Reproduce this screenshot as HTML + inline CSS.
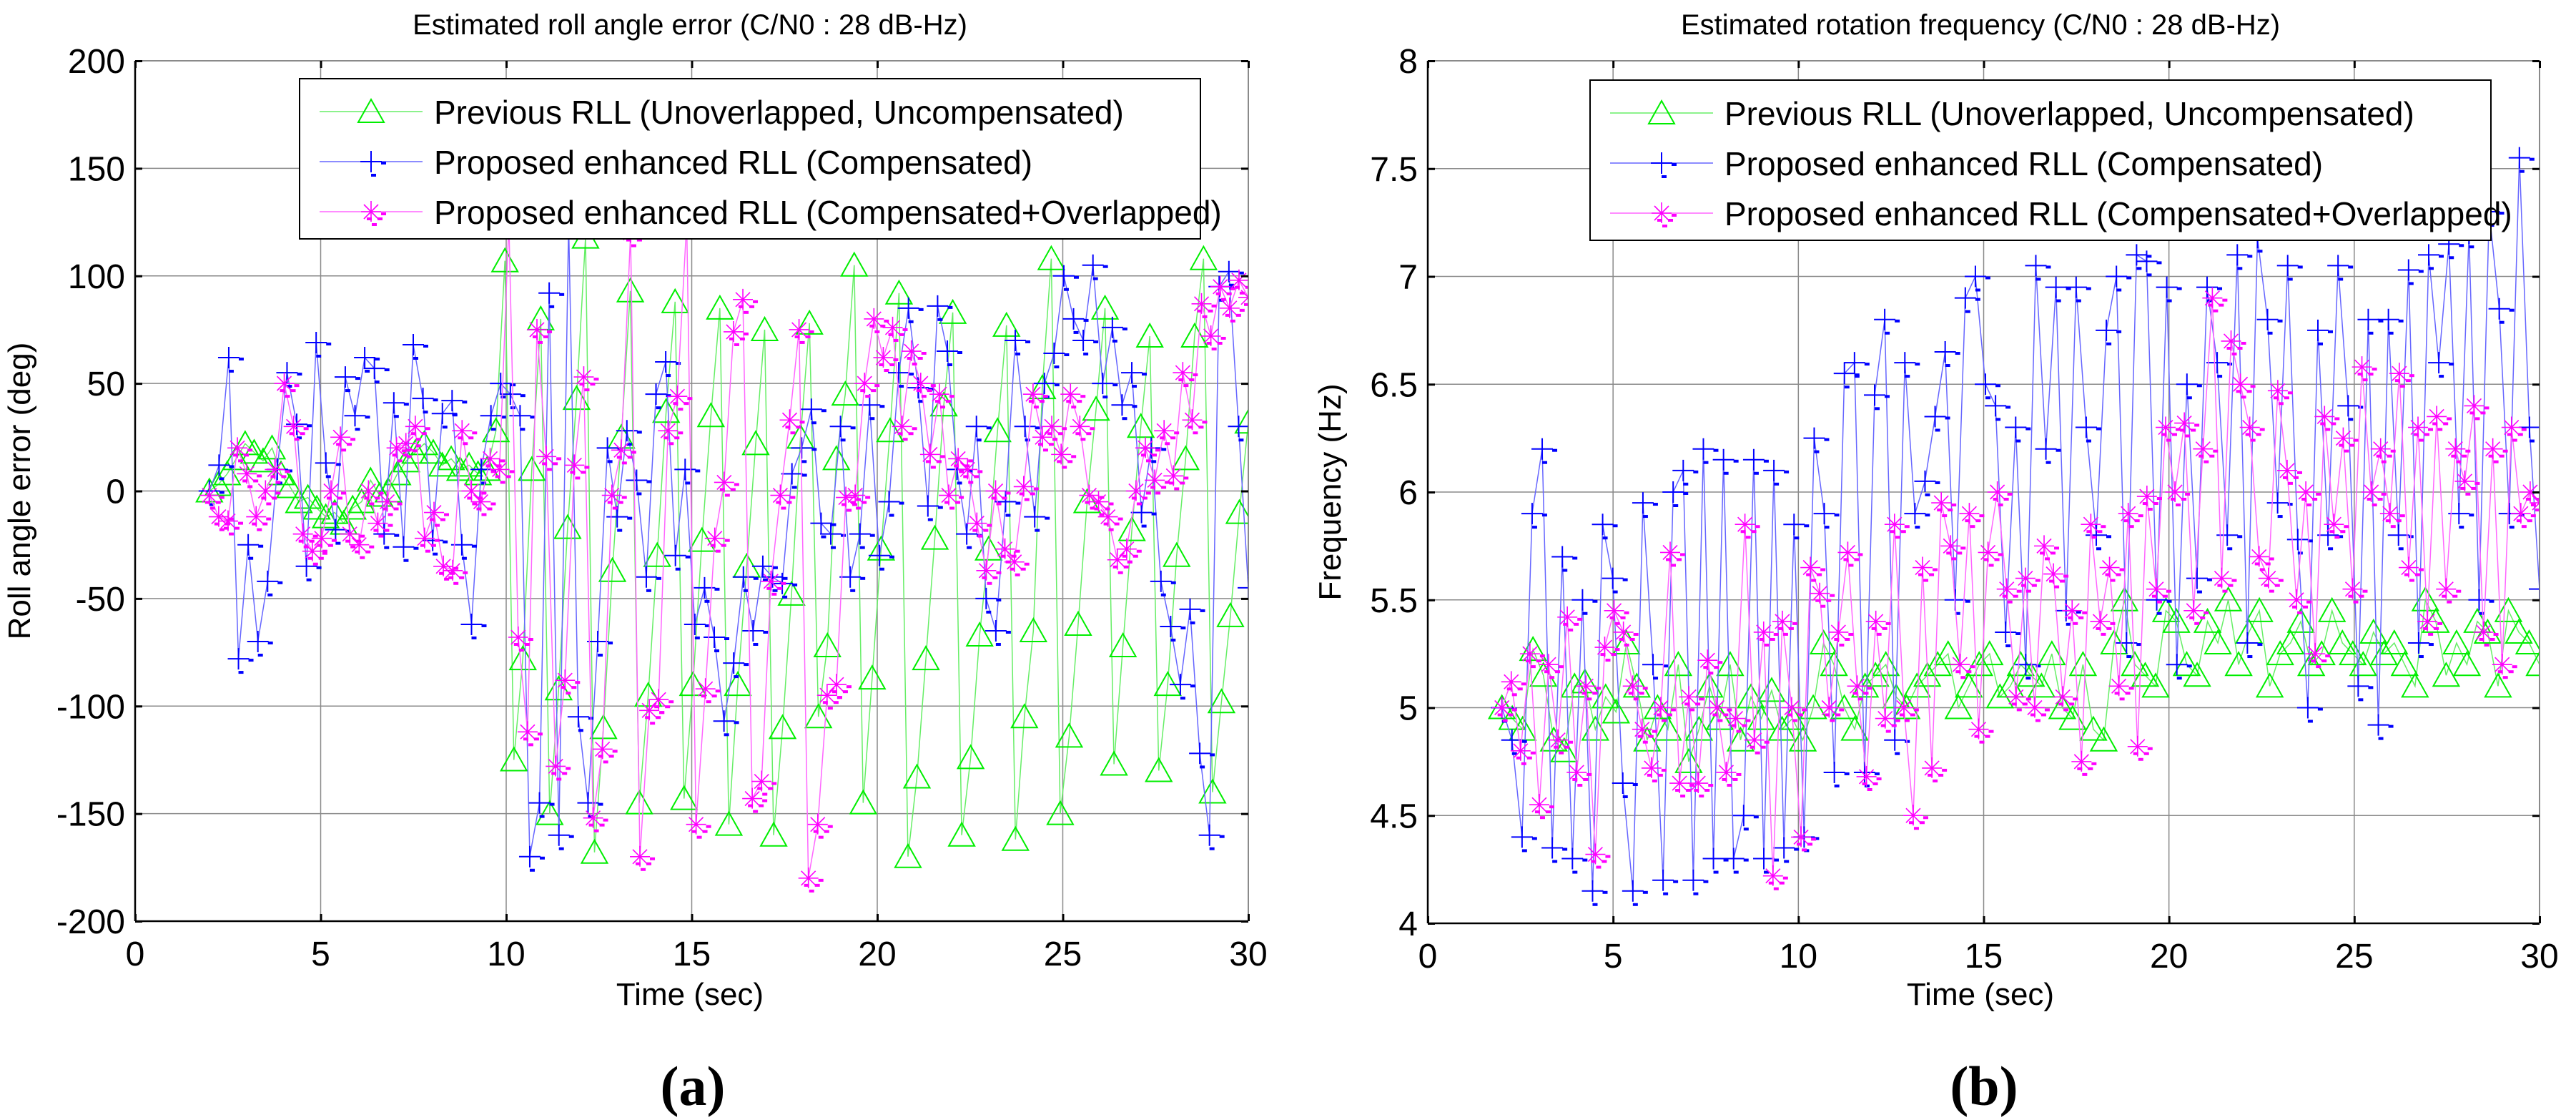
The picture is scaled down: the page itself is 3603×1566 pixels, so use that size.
<!DOCTYPE html>
<html><head><meta charset="utf-8">
<style>
html,body{margin:0;padding:0;background:#fff;}
svg{display:block;font-family:"Liberation Sans",sans-serif;}
</style></head>
<body>
<svg id="fig" width="3603" height="1566" viewBox="0 0 3603 1566" xmlns="http://www.w3.org/2000/svg">
<defs>
<clipPath id="clipA"><rect x="189" y="85" width="1557" height="1203"/></clipPath>
<clipPath id="clipB"><rect x="1997" y="85" width="1555" height="1206"/></clipPath>
</defs>
<g id="chartA"></g>
<g id="chartB"></g>
<text x="969" y="1545" text-anchor="middle" font-family="Liberation Serif,serif" font-size="78" font-weight="bold">(a)</text>
<text x="2775" y="1545" text-anchor="middle" font-family="Liberation Serif,serif" font-size="78" font-weight="bold">(b)</text>
</svg>
<script>
const xTicks=[0,5,10,15,20,25,30];
const yTicksA=[-200,-150,-100,-50,0,50,100,150,200];
const yTicksB=[4,4.5,5,5.5,6,6.5,7,7.5,8];
const yTickLabelsB=['4','4.5','5','5.5','6','6.5','7','7.5','8'];
const tStart=2, tEnd=30;
const greenA=[0,3,8,15,22,18,14,20,8,2,-5,-3,-8,-12,-10,-15,-8,-5,5,-2,0,8,14,18,22,18,12,15,10,12,8,10,
28,107,-125,-78,10,80,-150,-92,-17,43,118,-168,-110,-37,25,93,-145,-95,-30,37,88,-143,-90,-23,35,85,-155,-90,-35,22,75,-160,-110,-48,25,78,-105,-72,15,45,105,-145,-87,-27,28,92,-170,-133,-78,-22,40,83,-160,-124,-67,-27,28,77,-162,-105,-65,48,108,-150,-114,-62,-5,38,85,-127,-72,-18,30,72,-130,-90,-30,15,72,108,-140,-98,-58,-10,32];
const blueA=[0,12,62,-78,-25,-70,-42,10,55,31,-35,69,13,-18,53,35,62,57,-20,41,-26,68,43,-23,36,42,-25,-62,10,35,50,45,
35,-170,-145,92,-160,125,-105,-145,-70,20,-12,28,5,-40,45,60,-30,10,-62,-45,-68,-107,-80,-40,-65,-35,-40,-43,8,20,38,-15,-20,30,-40,-20,40,-30,-5,55,85,48,-7,86,65,10,-20,30,-50,-65,-5,70,30,-12,50,64,100,80,70,105,50,76,40,55,-10,20,-42,-63,-90,-55,-122,-160,95,102,30,-45];
const magentaA=[-2,-12,-14,20,8,-12,0,10,50,30,-20,-28,-22,0,25,-20,-25,0,-15,-5,20,22,30,-22,-10,-35,-37,28,0,-5,15,10,
125,-68,-112,75,16,-128,-88,12,53,-152,-120,-2,19,120,-170,-102,-97,28,44,125,-155,-92,-22,4,74,89,-143,-135,-42,-2,33,75,-180,-155,-95,-90,-3,-2,50,80,62,76,30,65,50,17,45,-2,15,10,-15,-37,0,-27,-33,2,45,25,30,17,45,30,-2,-5,-12,-32,-27,0,20,5,28,7,55,33,87,72,95,85,98,90];
const greenB=[5.0,4.95,4.9,5.27,5.15,4.85,4.8,5.1,5.12,4.9,5.05,4.98,5.3,5.1,4.85,5.0,4.9,5.2,4.75,4.9,5.1,4.95,5.2,4.85,5.05,4.95,5.08,4.9,4.95,4.85,5.0,5.3,5.2,5.0,4.9,5.1,5.15,5.2,5.05,5.0,5.1,5.15,5.2,5.25,5.0,5.1,5.2,5.25,5.05,5.1,5.2,5.15,5.1,5.25,5.0,4.95,5.2,4.9,4.85,5.3,5.5,5.2,5.15,5.1,5.45,5.4,5.2,5.15,5.4,5.3,5.5,5.2,5.35,5.45,5.1,5.25,5.3,5.4,5.2,5.25,5.45,5.3,5.25,5.2,5.35,5.25,5.3,5.2,5.1,5.5,5.4,5.15,5.3,5.2,5.4,5.35,5.1,5.45,5.35,5.3,5.2];
const blueB=[5.0,4.85,4.4,5.9,6.2,4.35,5.7,4.3,5.5,4.15,5.85,5.6,4.65,4.15,5.95,5.2,4.2,6.0,6.1,4.2,6.2,4.3,6.15,4.3,4.5,6.15,4.3,6.1,4.35,5.85,4.4,6.25,5.9,4.7,6.55,6.6,4.7,6.45,6.8,4.85,6.6,5.9,6.05,6.35,6.65,5.5,6.9,7.0,6.5,6.4,5.35,6.3,5.2,7.05,6.2,6.95,5.45,6.95,6.3,5.8,6.75,7.0,5.3,7.1,7.07,5.5,6.95,5.2,6.5,5.6,6.95,6.6,5.8,7.1,5.3,7.18,6.8,5.95,7.05,5.78,5.0,6.75,5.8,7.05,6.4,5.1,6.8,4.92,6.8,5.8,7.03,5.3,7.1,6.6,7.15,5.9,7.2,5.5,7.3,6.85,5.9,7.55,6.3,5.55];
const magentaB=[5.0,5.12,4.8,5.25,4.55,5.2,4.85,5.42,4.7,5.1,4.32,5.28,5.45,5.35,5.1,4.9,4.72,5.0,5.72,4.65,5.05,4.65,5.22,5.0,4.7,4.95,5.85,4.85,5.35,4.22,5.4,5.0,4.4,5.65,5.53,5.0,5.35,5.72,5.1,4.68,5.4,4.95,5.85,5.0,4.5,5.65,4.72,5.95,5.75,5.2,5.9,4.9,5.72,6.0,5.55,5.05,5.6,5.0,5.75,5.62,5.05,5.45,4.75,5.85,5.4,5.65,5.1,5.9,4.82,5.98,5.55,6.3,6.0,6.32,5.45,6.2,6.9,5.6,6.7,6.5,6.3,5.7,5.6,6.47,6.1,5.5,6.0,5.25,6.35,5.85,6.25,5.55,6.58,6.0,6.2,5.9,6.55,5.65,6.3,5.4,6.35,5.55,6.2,6.05,6.4,5.35,6.2,5.2,6.3,5.9,6.0,5.95];
const legendLabels=['Previous RLL (Unoverlapped, Uncompensated)','Proposed enhanced RLL (Compensated)','Proposed enhanced RLL (Compensated+Overlapped)'];

const NS='http://www.w3.org/2000/svg';
function mk(p,tag,attrs){const e=document.createElementNS(NS,tag);for(const k in attrs)e.setAttribute(k,attrs[k]);p.appendChild(e);return e;}

function tri(g,x,y){const e=mk(g,'path',{d:`M${x} ${y-17}L${x+18} ${y+15}L${x-18} ${y+15}Z`,fill:'none',stroke:'#00ee00','stroke-width':2});

}
function plus(g,x,y){const e=mk(g,'path',{d:`M${x-15} ${y}H${x+15}M${x} ${y-15}V${y+15}`,stroke:'#0000ff','stroke-width':2});


mk(g,'rect',{x:x+14,y:y,width:7,height:4,fill:'#0000ff'});mk(g,'rect',{x:x,y:y+17,width:7,height:4,fill:'#0000ff'});}
function star(g,x,y){const e=mk(g,'path',{d:`M${x-14} ${y}H${x+14}M${x} ${y-15}V${y+14}M${x-10} ${y-10}L${x+10} ${y+10}M${x+10} ${y-10}L${x-10} ${y+10}`,stroke:'#ff00ff','stroke-width':1.6});


mk(g,'rect',{x:x+14,y:y+1,width:7,height:4,fill:'#ff00ff'});mk(g,'rect',{x:x-6,y:y+8,width:7,height:4,fill:'#ff00ff'});mk(g,'rect',{x:x+9,y:y+8,width:7,height:4,fill:'#ff00ff'});mk(g,'rect',{x:x+1,y:y+16,width:7,height:4,fill:'#ff00ff'});}

function chart(root,o){
  const X=v=>o.L+(v-0)/(30-0)*(o.R-o.L);
  const Y=v=>o.B-(v-o.ymin)/(o.ymax-o.ymin)*(o.B-o.T);
  const grid=mk(root,'g',{});
  
  
  xTicks.forEach(t=>{mk(grid,'line',{x1:X(t),x2:X(t),y1:o.T,y2:o.B,stroke:'#8a8a8a','stroke-width':1.5});});
  o.yTicks.forEach(t=>{mk(grid,'line',{x1:o.L,x2:o.R,y1:Y(t),y2:Y(t),stroke:'#8a8a8a','stroke-width':1.5});});
  const sg=mk(root,'g',{'clip-path':`url(#${o.clip})`});
  
  
  const series=[[o.g,'#66ee66',tri,'series-previous'],[o.b,'#6666ff',plus,'series-compensated'],[o.m,'#ff66ff',star,'series-overlapped']];
  series.forEach(([arr,col,fn,name])=>{
    const g=mk(sg,'g',{});
    
    
    const n=arr.length;const pts=arr.map((v,i)=>[X(tStart+(tEnd-tStart)*i/(n-1)),Y(v)]);
    const pl=mk(g,'polyline',{points:pts.map(p=>p.join(',')).join(' '),fill:'none',stroke:col,'stroke-width':1.5});
    
    
    pts.forEach(p=>fn(g,p[0],p[1]));
  });
  mk(root,'line',{x1:o.L,x2:o.R,y1:o.T,y2:o.T,stroke:'#777','stroke-width':1.5});
  mk(root,'line',{x1:o.R,x2:o.R,y1:o.T,y2:o.B,stroke:'#777','stroke-width':1.5});
  mk(root,'line',{x1:o.L,x2:o.R,y1:o.B,y2:o.B,stroke:'#000','stroke-width':2.5});
  mk(root,'line',{x1:o.L,x2:o.L,y1:o.T,y2:o.B,stroke:'#000','stroke-width':2.5});
  xTicks.forEach(t=>{mk(root,'rect',{x:X(t)-1,y:o.B-10,width:3,height:10,fill:'#000'});mk(root,'rect',{x:X(t)-1,y:o.T,width:3,height:10,fill:'#000'});
    const tx=mk(root,'text',{x:X(t),y:o.B+62,'text-anchor':'middle','font-size':48});tx.textContent=t;
    
    });
  o.yTicks.forEach((t,i)=>{mk(root,'rect',{x:o.L,y:Y(t)-1,width:10,height:3,fill:'#000'});mk(root,'rect',{x:o.R-10,y:Y(t)-1,width:10,height:3,fill:'#000'});
    const tx=mk(root,'text',{x:o.L-14,y:Y(t)+17,'text-anchor':'end','font-size':48});tx.textContent=o.yLabels[i];
    
    });
  const ti=mk(root,'text',{x:o.tx,y:48,'text-anchor':'middle','font-size':40});ti.textContent=o.title;
  
  
  const xl=mk(root,'text',{x:o.tx,y:1405,'text-anchor':'middle','font-size':44});xl.textContent='Time (sec)';
  
  
  const yl=mk(root,'text',{x:0,y:0,'text-anchor':'middle','font-size':44,transform:`translate(${o.yx},${(o.T+o.B)/2}) rotate(-90)`});yl.textContent=o.ylabel;
  
  
  const lg=mk(root,'g',{});
  
  
  mk(lg,'rect',{x:o.lx,y:o.ly,width:o.lw,height:o.lh,fill:'#fff',stroke:'#000','stroke-width':2});
  const cols=['#66ee66','#6666ff','#ff66ff'],fns=[tri,plus,star];
  legendLabels.forEach((s,i)=>{const yy=o.ly+46+i*70;
    const e=mk(lg,'g',{});
    
    
    mk(e,'line',{x1:o.lx+28,x2:o.lx+172,y1:yy,y2:yy,stroke:cols[i],'stroke-width':1.5});
    fns[i](e,o.lx+100,yy);
    const tx=mk(e,'text',{x:o.lx+188,y:yy+17,'font-size':46});tx.textContent=s;});
}
chart(document.getElementById('chartA'),{L:189,R:1746,T:85,B:1288,ymin:-200,ymax:200,yTicks:yTicksA,yLabels:yTicksA.map(String),clip:'clipA',g:greenA,b:blueA,m:magentaA,title:'Estimated roll angle error (C/N0 : 28 dB-Hz)',ylabel:'Roll angle error (deg)',tx:965,yx:42,lx:419,ly:110,lw:1260,lh:224});
chart(document.getElementById('chartB'),{L:1997,R:3552,T:85,B:1291,ymin:4,ymax:8,yTicks:yTicksB,yLabels:yTickLabelsB,clip:'clipB',g:greenB,b:blueB,m:magentaB,title:'Estimated rotation frequency (C/N0 : 28 dB-Hz)',ylabel:'Frequency (Hz)',tx:2770,yx:1875,lx:2224,ly:112,lw:1260,lh:224});
</script>
</body></html>
